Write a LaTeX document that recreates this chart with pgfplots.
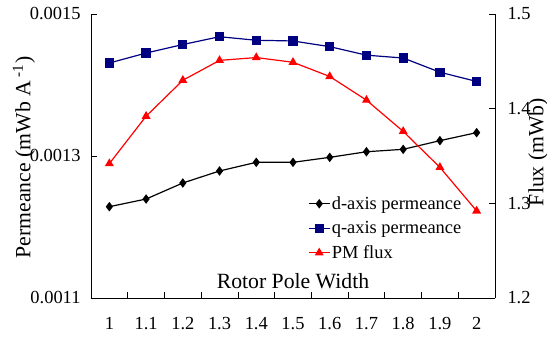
\documentclass[border=0pt]{standalone}
\usepackage{pgfplots}
\pgfplotsset{compat=1.18}
\usepackage{fontspec}
\setmainfont{Liberation Serif}
\definecolor{navyq}{RGB}{0,0,128}
\definecolor{redpm}{RGB}{255,0,0}

\pgfplotstableread{
x d q pm
1.0 0.0012286 0.001431 1.342
1.1 0.0012394 0.001445 1.392
1.2 0.0012620 0.001457 1.430
1.3 0.0012789 0.001468 1.451
1.4 0.0012911 0.001463 1.454
1.5 0.0012911 0.001462 1.449
1.6 0.0012981 0.001454 1.434
1.7 0.0013060 0.001442 1.409
1.8 0.0013094 0.001438 1.376
1.9 0.0013216 0.001418 1.338
2.0 0.0013329 0.001405 1.292
}\datatable

\begin{document}
\begin{tikzpicture}
\pgfplotsset{
  common/.style={
    scale only axis, width=404bp, height=284bp,
    xmin=0.95, xmax=2.05,
    tick label style={font=\fontsize{18.5}{22}\selectfont},
    /pgf/number format/assume math mode=true,
    scaled y ticks=false, scaled x ticks=false,
    tick align=inside,
    major tick length=6bp,
    tick style={black, line width=0.8bp},
    axis line style={-, black, line width=0.8bp},
    clip=false,
  }
}
\begin{axis}[common, name=ax,
  ymin=0.0011, ymax=0.0015,
  axis x line*=bottom, axis y line*=left,
  xtick={1.05,1.15,1.25,1.35,1.45,1.55,1.65,1.75,1.85,1.95},
  xticklabels={},
  extra x ticks={1,1.1,1.2,1.3,1.4,1.5,1.6,1.7,1.8,1.9,2},
  extra x tick labels={1,1.1,1.2,1.3,1.4,1.5,1.6,1.7,1.8,1.9,2},
  extra x tick style={major tick length=0pt},
  xticklabel style={yshift=-16bp},
  ytick={0.0011,0.0013,0.0015},
  yticklabels={0.0011,0.0013,0.0015},
  yticklabel style={xshift=-7bp},
  xlabel={Rotor Pole Width},
  every axis x label/.style={at={(axis description cs:0.5,0)}, anchor=base, yshift=10bp,
    font=\fontsize{21.8}{26}\selectfont},
  ylabel={Permeance (mWb A\textsuperscript{ -1})},
  every axis y label/.style={at={(axis description cs:-0.166,0.495)}, rotate=90, anchor=center,
    font=\fontsize{21.8}{26}\selectfont},
  legend style={draw=none, fill=none, at={(axis description cs:0.537,0.363)}, anchor=north west,
    font=\fontsize{18.5}{22}\selectfont, row sep=7.5bp, inner sep=0pt,
    nodes={inner sep=1.5bp}},
  legend cell align=left,
  legend image code/.code={\draw[mark repeat=2,mark phase=2] plot coordinates {(0cm,0cm) (0.37cm,0cm) (0.74cm,0cm)};},
]
\addplot[black, line width=1.2bp, mark=diamond*, mark size=3.8bp, mark options={solid}] table[x=x, y=d] {\datatable};
\addlegendentry{d-axis permeance}
\addplot[navyq, line width=1.2bp, mark=square*, mark size=4bp] table[x=x, y=q] {\datatable};
\addlegendentry{q-axis permeance}
\addlegendimage{redpm, line width=1.2bp, mark=triangle*, mark size=4bp}
\addlegendentry{PM flux}
\end{axis}
\begin{axis}[common,
  ymin=1.2, ymax=1.5,
  axis x line=none, axis y line*=right,
  ytick={1.2,1.3,1.4,1.5},
  yticklabels={1.2,1.3,1.4,1.5},
  yticklabel style={xshift=9bp},
  ylabel={Flux (mWb)},
  every axis y label/.style={at={(axis description cs:1.107,0.514)}, rotate=90, anchor=center,
    font=\fontsize{21.8}{26}\selectfont},
]
\addplot[redpm, line width=1.2bp, mark=triangle*, mark size=4bp] table[x=x, y=pm] {\datatable};
\end{axis}
\pgfresetboundingbox
\path (ax.south west) ++(-91bp,-43bp) rectangle ++(547bp,341bp);
\end{tikzpicture}
\end{document}
